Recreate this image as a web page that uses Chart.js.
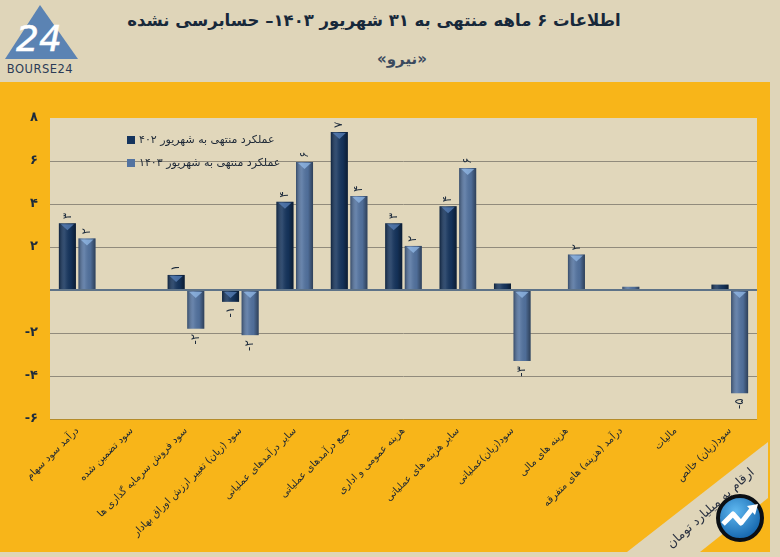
<!DOCTYPE html>
<html>
<head>
<meta charset="utf-8">
<script src="https://cdn.jsdelivr.net/npm/chart.js@4/dist/chart.umd.min.js"></script>
<style>
  html,body{margin:0;padding:0;}
  body{width:780px;height:557px;position:relative;overflow:hidden;background:#dfd5b9;font-family:"DejaVu Sans",sans-serif;}
  #panel{position:absolute;left:0;top:82px;width:770px;height:470px;background:#f8b519;}
  #band{position:absolute;left:0;top:0;width:780px;height:557px;background:#dfd5b9;
        clip-path:polygon(768px 442px,768px 498px,700px 552px,627px 552px);}
  #title{position:absolute;left:0;top:11px;width:748px;text-align:center;direction:rtl;
         font-weight:bold;font-size:16.5px;color:#17283a;}
  #subtitle{position:absolute;left:0;top:50px;width:804px;text-align:center;direction:rtl;
         font-weight:bold;font-size:15px;color:#3b4a5e;}
  #chartWrap{position:absolute;left:0;top:0;width:780px;height:557px;}
  .leg{position:absolute;display:flex;align-items:center;font-size:11px;color:#1c2735;}
  .leg .sq{width:8px;height:8px;margin-right:4px;}
  #unit{position:absolute;left:640px;top:500px;width:140px;text-align:center;direction:rtl;
        font-size:12.5px;color:#2a3140;transform:rotate(-42deg);transform-origin:center;}
  #logo1{position:absolute;left:2px;top:3px;}
  #logo2{position:absolute;left:716px;top:494px;}
</style>
</head>
<body>
<div id="panel"></div>
<div id="band"></div>
<div id="title">اطلاعات ۶ ماهه منتهی به ۳۱ شهریور ۱۴۰۳– حسابرسی نشده</div>
<div id="subtitle">«نیرو»</div>
<svg id="logo1" width="82" height="76" viewBox="0 0 82 76">
  <polygon points="38,2 3,56 76,56" fill="#5b83b3"/>
  <text x="37" y="48" text-anchor="middle" font-family="DejaVu Sans" font-size="36" font-style="italic" fill="#ffffff" stroke="#ffffff" stroke-width="0.5">24</text>
  <text x="38" y="70" text-anchor="middle" font-family="DejaVu Sans" font-size="11.5" fill="#2b3b56" letter-spacing="0.5">BOURSE24</text>
</svg>
<div id="chartWrap"><canvas id="c" width="780" height="557"></canvas></div>
<div id="legend"></div>
<div id="unit">ارقام به میلیارد تومان</div>
<svg id="logo2" width="48" height="48" viewBox="0 0 48 48">
  <defs>
    <radialGradient id="g2" cx="0.4" cy="0.35" r="0.7">
      <stop offset="0" stop-color="#5fb8f0"/>
      <stop offset="1" stop-color="#0e5fa8"/>
    </radialGradient>
  </defs>
  <circle cx="24" cy="24" r="22" fill="url(#g2)" stroke="#0b0f14" stroke-width="4"/>
  <polyline points="7,30 17,20 25,29 36,15" fill="none" stroke="#ffffff" stroke-width="5" stroke-linejoin="round"/>
  <polygon points="31,12 42,10 39,21" fill="#ffffff"/>
</svg>
<script>
const categories = [
  "درآمد سود سهام",
  "سود تضمین شده",
  "سود فروش سرمایه گذاری ها",
  "سود (زیان) تغییر ارزش اوراق بهادار",
  "سایر درآمدهای عملیاتی",
  "جمع درآمدهای عملیاتی",
  "هزینه عمومی و اداری",
  "سایر هزینه های عملیاتی",
  "سود(زیان)عملیاتی",
  "هزینه های مالی",
  "درآمد (هزینه) های متفرقه",
  "مالیات",
  "سود(زیان) خالص"
];
const seriesNames = ["عملکرد منتهی به شهریور ۴۰۲", "عملکرد منتهی به شهریور ۱۴۰۳"];
const values1402 = [3.1, 0, 0.7, -0.55, 4.1, 7.35, 3.1, 3.9, 0.3, 0, 0, 0, 0.25];
const values1403 = [2.4, 0, -1.8, -2.1, 5.95, 4.37, 2.05, 5.67, -3.3, 1.65, 0.15, 0, -4.8];
const yTickValues = [-6, -4, -2, 0, 2, 4, 6, 8];
const seriesColors = ["#15345d", "#5373a0"];

const faDigits = "۰۱۲۳۴۵۶۷۸۹";
function fa(n){ return String(n).replace(/[0-9]/g, d => faDigits[+d]); }

// HTML legend built from series names
const legendEl = document.getElementById('legend');
seriesNames.forEach((name, i) => {
  const d = document.createElement('div');
  d.className = 'leg';
  d.style.left = '127px';
  d.style.top = (133 + i * 23) + 'px';
  d.innerHTML = '<div class="sq" style="background:' + seriesColors[i] + '"></div><span dir="rtl">' + name + '</span>';
  legendEl.appendChild(d);
});

const plotBg = {
  id: 'plotBg',
  beforeDraw(chart){
    const {ctx, chartArea: a} = chart;
    ctx.save();
    ctx.fillStyle = '#e1d7bb';
    ctx.fillRect(a.left, a.top, a.right - a.left, a.bottom - a.top);
    ctx.strokeStyle = '#b58c2a';
    ctx.lineWidth = 1;
    ctx.beginPath();
    ctx.moveTo(a.left, a.bottom + 0.5); ctx.lineTo(a.right, a.bottom + 0.5);
    ctx.stroke();
    ctx.restore();
  }
};

const barShade = {
  id: 'barShade',
  afterDatasetsDraw(chart){
    const ctx = chart.ctx;
    chart.data.datasets.forEach((ds, di) => {
      const meta = chart.getDatasetMeta(di);
      meta.data.forEach((el, i) => {
        const p = el.getProps(['x','y','base','width'], true);
        const left = p.x - p.width / 2, right = p.x + p.width / 2;
        const top = Math.min(p.y, p.base), bot = Math.max(p.y, p.base);
        const h = bot - top;
        if (h >= 1) {
          ctx.save();
          const g = ctx.createLinearGradient(left, 0, right, 0);
          g.addColorStop(0, 'rgba(0,0,0,0.35)');
          g.addColorStop(0.35, 'rgba(255,255,255,0.12)');
          g.addColorStop(0.7, 'rgba(0,0,0,0.05)');
          g.addColorStop(1, 'rgba(0,0,0,0.45)');
          ctx.fillStyle = g;
          ctx.fillRect(left, top, p.width, h);
          if (h >= 8) {
            ctx.fillStyle = di === 0 ? 'rgba(90,130,185,0.75)' : 'rgba(150,190,235,0.7)';
            ctx.beginPath();
            ctx.moveTo(left + 2, top + 1);
            ctx.lineTo(right - 2, top + 1);
            ctx.lineTo(p.x, top + 7);
            ctx.closePath();
            ctx.fill();
          }
          ctx.restore();
        }
        // data label
        const v = ds.data[i];
        const r = Math.round(v);
        if (r !== 0) {
          ctx.save();
          ctx.fillStyle = '#1d2b3c';
          ctx.font = '12px "DejaVu Sans"';
          ctx.textBaseline = 'middle';
          if (v > 0) {
            ctx.translate(p.x, top - 4);
            ctx.rotate(-Math.PI / 2);
            ctx.textAlign = 'left';
          } else {
            ctx.translate(p.x, bot + 5);
            ctx.rotate(-Math.PI / 2);
            ctx.textAlign = 'right';
          }
          ctx.fillText((r < 0 ? '-' : '') + fa(Math.abs(r)), 0, 0);
          ctx.restore();
        }
      });
    });
  }
};

new Chart(document.getElementById('c'), {
  type: 'bar',
  data: {
    labels: categories,
    datasets: [
      { label: seriesNames[0], data: values1402, backgroundColor: seriesColors[0],
        barPercentage: 0.87, categoryPercentage: 0.72 },
      { label: seriesNames[1], data: values1403, backgroundColor: seriesColors[1],
        barPercentage: 0.87, categoryPercentage: 0.72 }
    ]
  },
  options: {
    responsive: false,
    animation: false,
    layout: { padding: { left: 0, right: 23, top: 118, bottom: 0 } },
    plugins: { legend: { display: false }, tooltip: { enabled: false } },
    scales: {
      x: {
        grid: { display: false, drawTicks: false },
        border: { display: false },
        ticks: {
          autoSkip: false, maxRotation: 45, minRotation: 45, padding: 6,
          color: '#1c2633', font: { family: 'DejaVu Sans', size: 10 }
        },
        afterFit(s){ s.height = 138; }
      },
      y: {
        min: -6, max: 8,
        afterBuildTicks(s){ s.ticks = yTickValues.map(v => ({ value: v })); },
        grid: {
          drawTicks: false,
          color: c => (c.tick.value === 0 ? '#5e7388' : (c.tick.value === 8 || c.tick.value === -6 ? 'rgba(0,0,0,0)' : '#918b7c')),
          lineWidth: c => (c.tick.value === 0 ? 2 : 1)
        },
        border: { display: false },
        ticks: {
          padding: 12,
          color: '#1d2b3c',
          font: { family: 'DejaVu Sans', size: 13, weight: 'bold' },
          callback: v => (v === 0 ? '' : (v < 0 ? '-' : '') + fa(Math.abs(v)))
        },
        afterFit(s){ s.width = 50; }
      }
    }
  },
  plugins: [plotBg, barShade]
});
</script>
</body>
</html>
